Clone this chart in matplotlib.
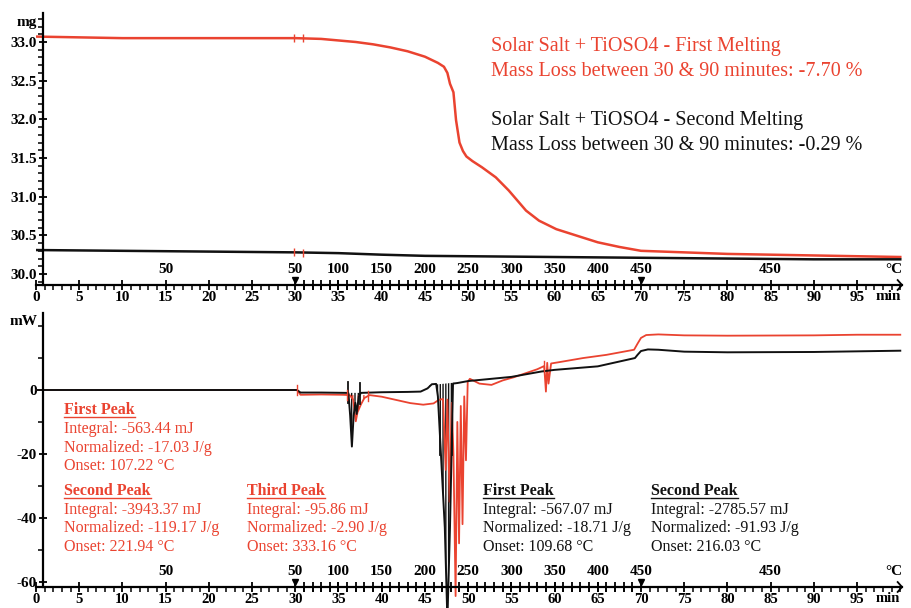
import numpy as np
import matplotlib
matplotlib.use("Agg")
import matplotlib.pyplot as plt
from matplotlib.ticker import MultipleLocator, FixedLocator
from matplotlib.transforms import blended_transform_factory
from matplotlib.lines import Line2D

plt.rcParams['font.family'] = ['Liberation Serif', 'DejaVu Serif']

RED = '#ea4330'
BLACK = '#111111'

# ---- time axis (minutes) and temperature programme ----
time_ticks = list(range(0, 100, 5))
ramp_minutes = list(range(31, 70))
temp_tick_minutes = [15, 30, 35, 40, 45, 50, 55, 60, 65, 70, 85]
temp_tick_labels = ['50', '50', '100', '150', '200', '250', '300', '350', '400', '450', '450']
segment_marks = [30, 70]

# ---- TG: sample mass (mg) ----
tg_time_first = [0, 5, 10, 20, 30, 33, 35, 37, 39, 41, 43, 45, 46.5, 47.2, 47.6, 47.9,
                 48.3, 48.6, 49.0, 49.4, 49.8, 50.5, 51.6, 53.2, 54.7, 56.7, 58.2, 60.2,
                 63.3, 65, 67.5, 70, 75, 80, 90, 100]
tg_mass_first = [33.07, 33.06, 33.05, 33.05, 33.05, 33.04, 33.02, 33.00, 32.97, 32.93,
                 32.88, 32.81, 32.73, 32.68, 32.60, 32.46, 32.35, 31.99, 31.70, 31.59,
                 31.52, 31.46, 31.38, 31.25, 31.08, 30.82, 30.69, 30.58, 30.47, 30.41,
                 30.35, 30.30, 30.28, 30.26, 30.24, 30.22]
tg_time_second = [0, 10, 20, 30, 35, 40, 45, 50, 60, 70, 80, 90, 100]
tg_mass_second = [30.31, 30.30, 30.29, 30.28, 30.27, 30.25, 30.235, 30.23, 30.22, 30.21,
                  30.20, 30.19, 30.19]
tg_limits = [29.8, 30.9]

# ---- DSC: heat flow (mW) ----
dsc_time_first = [0, 10, 20, 30.2, 30.6, 33, 35.5, 36.3, 36.7, 37.0, 37.2, 37.6, 38.0,
                  38.6, 40, 43.3, 44.8, 46.0, 46.6, 47.1, 47.4, 47.6, 47.85, 48.1, 48.3,
                  48.55, 48.75, 48.95, 49.15, 49.35, 49.55, 49.75, 49.95, 50.2, 51.3,
                  52.7, 54.0, 55.3, 58.0, 58.8, 59.0, 59.15, 59.3, 59.6, 60.5, 63.3, 66,
                  68, 69.2, 69.6, 70.0, 70.6, 72, 75, 80, 90, 95, 100]
dsc_heat_first = [0, 0, 0, 0, -1.5, -1.4, -1.5, -1.6, -3.0, -9.8, -7.0, -4.5, -2.5,
                  -1.6, -2.1, -4.1, -4.6, -4.2, -3.1, -2.8, -25, -3.0, -35, -4.0, -20,
                  -64.5, -10, -48, -5, -42, -2, -22, 2.5, 3.5, 2.0, 1.6, 3.0, 4.0, 6.5,
                  7.5, -0.5, 8.5, 2.0, 8.3, 8.7, 10.0, 11.0, 12.0, 12.6, 14.5, 16.3,
                  17.2, 17.4, 17.1, 17.0, 17.1, 17.3, 17.3]
dsc_time_second = [0, 10, 20, 30.2, 30.6, 33, 35.9, 36.15, 36.35, 36.55, 36.75, 36.95,
                   37.1, 37.35, 37.6, 40, 43, 44.5, 45.3, 45.8, 46.3, 46.5, 47.3, 47.6,
                   47.9, 48.25, 48.8, 50, 55, 58.5, 60, 65, 69.3, 69.6, 70.0, 70.8, 72,
                   75, 80, 90, 100]
dsc_heat_second = [0, 0, 0, 0, -0.8, -0.8, -0.9, -1.0, -8, -17.7, -8, -4, -7.5, -2,
                   -0.9, -0.7, -0.6, -0.5, 0.5, 1.8, 1.9, -2, -43, -72, -43, 2.0, 2.2,
                   2.8, 4.1, 5.8, 6.3, 7.4, 10.0, 11.0, 12.2, 12.7, 12.6, 12.0, 11.8,
                   11.9, 12.3]
peak_limits_second = [36.15, 37.5, 46.8, 48.1]
peak_limits_first = [36.0, 38.4, 30.2, 58.8]

fig = plt.figure(figsize=(9.11, 6.08), dpi=100)
W, H = 911, 608
ax1 = fig.add_axes([36 / W, 1 - 285 / H, 866 / W, 272 / H])
ax2 = fig.add_axes([36 / W, 1 - 587 / H, 866 / W, 274 / H])

TICK_FS = 11


def style_time_axis(ax, xlabel_fs):
    ax.set_xlim(0, 100.2)
    for s in ['top', 'right']:
        ax.spines[s].set_visible(False)
    ax.spines['left'].set_position(('data', 0.8))
    for s in ['left', 'bottom']:
        ax.spines[s].set_linewidth(1.6)
    ax.set_xticks(time_ticks, labels=[str(t) for t in time_ticks], fontweight='bold')
    ax.xaxis.set_minor_locator(MultipleLocator(1))
    ax.tick_params(axis='x', which='major', direction='inout', length=7, width=1.3,
                   pad=0.5, labelsize=xlabel_fs)
    ax.tick_params(axis='x', which='minor', direction='out', length=3.5, width=1.1)
    ax.tick_params(axis='y', which='major', direction='inout', length=6, width=1.3,
                   pad=1.5, labelsize=TICK_FS)
    ax.tick_params(axis='y', which='minor', direction='out', length=3.5, width=1.1)
    for lab in ax.get_yticklabels():
        lab.set_fontweight('bold')
    trans = blended_transform_factory(ax.transData, ax.transAxes)
    # temperature-ramp ticks crossing the time axis
    ax.plot(ramp_minutes, [0] * len(ramp_minutes), transform=trans, marker='|', ms=7,
            mew=1.3, ls='none', color='k', clip_on=False)
    ax.plot(segment_marks, [0.018] * len(segment_marks), transform=trans, marker='v',
            ms=5, ls='none', color='k', clip_on=False)
    for t, lab in zip(temp_tick_minutes, temp_tick_labels):
        ax.text(t, 0.056, lab, transform=trans, ha='center', va='center',
                fontweight='bold', fontsize=TICK_FS)
    ax.text(99.2, 0.056, '°C', transform=trans, ha='center', va='center',
            fontweight='bold', fontsize=TICK_FS)
    ax.annotate('min', xy=(98.6, 0), xycoords=trans, xytext=(0, -8.5),
                textcoords='offset points', ha='center', va='center',
                fontweight='bold', fontsize=xlabel_fs)
    # arrow head at the end of the time axis
    ax.plot([0.995, 1.0, 0.995], [0.018, 0, -0.018], transform=ax.transAxes,
            color='k', lw=1.3, clip_on=False)


# ---- TG panel ----
ax1.plot(tg_time_first, tg_mass_first, color=RED, lw=1.8)
ax1.plot(tg_time_second, tg_mass_second, color=BLACK, lw=1.8)
for curve_t, curve_m in [(tg_time_first, tg_mass_first), (tg_time_second, tg_mass_second)]:
    ax1.plot(tg_limits, np.interp(tg_limits, curve_t, curve_m), ls='none', marker='|',
             ms=6, mew=1.0, color=RED)
ax1.set_ylim(29.858, 33.375)
ax1.set_yticks(np.arange(30.0, 33.01, 0.5),
               labels=[f'{v:.1f}' for v in np.arange(30.0, 33.01, 0.5)], fontweight='bold')
ax1.yaxis.set_minor_locator(MultipleLocator(0.1))
style_time_axis(ax1, TICK_FS)
ax1.annotate('mg', xy=(0.8, 33.25), xycoords='data', xytext=(-4, 0),
             textcoords='offset points', ha='right', va='center', fontweight='bold',
             fontsize=TICK_FS)

# ---- DSC panel ----
ax2.plot(dsc_time_first, dsc_heat_first, color=RED, lw=1.3, clip_on=False)
ax2.plot(dsc_time_second, dsc_heat_second, color=BLACK, lw=1.4, clip_on=False)

# hatched peak areas
tt = np.linspace(35.9, 37.6, 200)
ax2.fill_between(tt, np.interp(tt, dsc_time_second, dsc_heat_second), -0.9,
                 where=np.interp(tt, dsc_time_second, dsc_heat_second) < -0.9,
                 facecolor='none', edgecolor=BLACK, hatch='|||||', linewidth=0)
tt = np.linspace(36.3, 38.6, 200)
ax2.fill_between(tt, np.interp(tt, dsc_time_first, dsc_heat_first), -1.6,
                 facecolor='none', edgecolor=RED, hatch='|||', linewidth=0)
tt = np.linspace(45.5, 48.4, 300)
base = np.interp(tt, [45.5, 48.4], [1.5, 2.3])
ax2.fill_between(tt, np.maximum(np.interp(tt, dsc_time_second, dsc_heat_second), -61.6),
                 base, facecolor='none', edgecolor=BLACK, hatch='||||||', linewidth=0)

for t in peak_limits_second:
    y = np.interp(t, dsc_time_second, dsc_heat_second)
    ax2.plot([t, t], [y - 3, y + 3.5], color=BLACK, lw=1.3)
for t in peak_limits_first:
    y = np.interp(t, dsc_time_first, dsc_heat_first)
    ax2.plot([t, t], [y - 1.5, y + 1.5], color=RED, lw=1.0)

ax2.set_ylim(-61.66, 24.1)
ax2.set_yticks([-60, -40, -20, 0], labels=['-60', '-40', '-20', '0'], fontweight='bold')
ax2.yaxis.set_minor_locator(FixedLocator([-50, -30, -10, 10, 20]))
style_time_axis(ax2, 10.5)
ax2.annotate('mW', xy=(0.8, 21.3), xycoords='data', xytext=(-4, 0),
             textcoords='offset points', ha='right', va='center', fontweight='bold',
             fontsize=TICK_FS)

# ---- legends / annotations ----
def ftext(x, y, s, **kw):
    return fig.text(x / W, 1 - y / H, s, ha='left', va='center', **kw)


ftext(491, 46, 'Solar Salt + TiOSO4 - First Melting', color=RED, fontsize=14.5)
ftext(491, 72, 'Mass Loss between 30 & 90 minutes: -7.70 %', color=RED, fontsize=14.5)
ftext(491, 120, 'Solar Salt + TiOSO4 - Second Melting', color=BLACK, fontsize=14.5)
ftext(491, 146, 'Mass Loss between 30 & 90 minutes: -0.29 %', color=BLACK, fontsize=14.5)

peak_blocks = [
    (64, 410, RED, 'First Peak', ['Integral: -563.44 mJ', 'Normalized: -17.03 J/g',
                                   'Onset: 107.22 °C']),
    (64, 491, RED, 'Second Peak', ['Integral: -3943.37 mJ', 'Normalized: -119.17 J/g',
                                    'Onset: 221.94 °C']),
    (247, 491, RED, 'Third Peak', ['Integral: -95.86 mJ', 'Normalized: -2.90 J/g',
                                   'Onset: 333.16 °C']),
    (483, 491, BLACK, 'First Peak', ['Integral: -567.07 mJ', 'Normalized: -18.71 J/g',
                                      'Onset: 109.68 °C']),
    (651, 491, BLACK, 'Second Peak', ['Integral: -2785.57 mJ', 'Normalized: -91.93 J/g',
                                       'Onset: 216.03 °C']),
]
headers = []
for x, y, col, title, lines in peak_blocks:
    h = ftext(x, y, title, color=col, fontsize=11.5, fontweight='bold')
    headers.append((h, col))
    for i, line in enumerate(lines):
        ftext(x, y + 19 + 18.5 * i, line, color=col, fontsize=11.5)

fig.canvas.draw()
renderer = fig.canvas.get_renderer()
for h, col in headers:
    bb = h.get_window_extent(renderer)
    yline = bb.y0 + 1
    fig.add_artist(Line2D([bb.x0 / W, bb.x1 / W], [yline / H, yline / H], color=col,
                          lw=1.0, transform=fig.transFigure))

fig.savefig('out.png', dpi=100)
